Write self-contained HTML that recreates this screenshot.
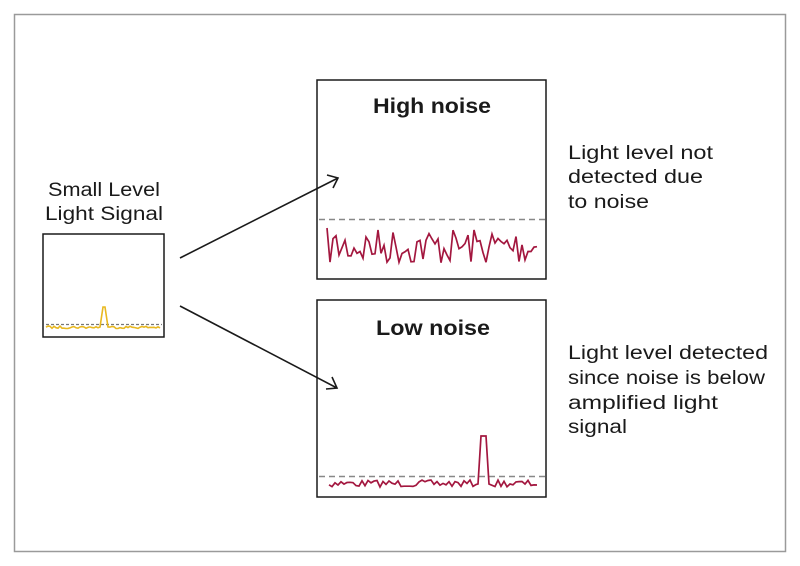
<!DOCTYPE html>
<html><head><meta charset="utf-8"><style>
html,body{margin:0;padding:0;background:#fff}
svg{display:block}
text{font-family:"Liberation Sans",sans-serif;fill:#1a1a1a}
</style></head><body>
<svg id="s" width="800" height="566" viewBox="0 0 800 566" xmlns="http://www.w3.org/2000/svg">
<rect x="14.5" y="14.5" width="771" height="537" fill="none" stroke="#9a9a9a" stroke-width="1.5"/>
<text x="48" y="196" font-size="19" textLength="112" lengthAdjust="spacingAndGlyphs">Small Level</text>
<text x="45" y="220" font-size="19" textLength="118" lengthAdjust="spacingAndGlyphs">Light Signal</text>
<rect x="43" y="234" width="121" height="103" fill="none" stroke="#1a1a1a" stroke-width="1.5"/>
<line x1="46" y1="324.5" x2="162" y2="324.5" stroke="#777" stroke-width="1.2" stroke-dasharray="3,2"/>
<polyline id="yl" fill="none" stroke="#e8b820" stroke-width="1.6"/>
<rect x="317" y="80" width="229" height="199" fill="none" stroke="#1a1a1a" stroke-width="1.5"/>
<text x="373" y="113" font-size="21" font-weight="bold" textLength="118" lengthAdjust="spacingAndGlyphs">High noise</text>
<line x1="319" y1="219.5" x2="545" y2="219.5" stroke="#888" stroke-width="1.5" stroke-dasharray="6,4"/>
<polyline id="hn" fill="none" stroke="#a3173f" stroke-width="1.7"/>
<rect x="317" y="300" width="229" height="197" fill="none" stroke="#1a1a1a" stroke-width="1.5"/>
<text x="376" y="335" font-size="21" font-weight="bold" textLength="114" lengthAdjust="spacingAndGlyphs">Low noise</text>
<line x1="319" y1="476.5" x2="545" y2="476.5" stroke="#888" stroke-width="1.5" stroke-dasharray="6,4"/>
<polyline id="ln" fill="none" stroke="#a3173f" stroke-width="1.7"/>
<g stroke="#1a1a1a" stroke-width="1.6" fill="none">
<line x1="180" y1="258" x2="338" y2="178"/>
<polyline points="327,175 338,178 333,188"/>
<line x1="180" y1="306" x2="337" y2="388"/>
<polyline points="332,377 337,388 326,389"/>
</g>
<g font-size="19">
<text x="568" y="159" textLength="145" lengthAdjust="spacingAndGlyphs">Light level not</text>
<text x="568" y="183" textLength="135" lengthAdjust="spacingAndGlyphs">detected due</text>
<text x="568" y="208" textLength="81" lengthAdjust="spacingAndGlyphs">to noise</text>
<text x="568" y="359" textLength="200" lengthAdjust="spacingAndGlyphs">Light level detected</text>
<text x="568" y="384" textLength="197" lengthAdjust="spacingAndGlyphs">since noise is below</text>
<text x="568" y="409" textLength="150" lengthAdjust="spacingAndGlyphs">amplified light</text>
<text x="568" y="433" textLength="59" lengthAdjust="spacingAndGlyphs">signal</text>
</g>
</svg>
<script>
var seed=7;function r(){seed=(seed*16807)%2147483647;return seed/2147483647;}
var p=[];for(var x=327;x<=538;x+=3){p.push(x+","+(228+r()*37).toFixed(1));}
document.getElementById('hn').setAttribute('points',p.join(' '));
p=[];for(var x=329;x<=538;x+=3){
 if(x>=477&&x<=492){p.push("478,484 481,436 486,436 489,484");x=492;continue;}
 p.push(x+","+(480+r()*7).toFixed(1));}
document.getElementById('ln').setAttribute('points',p.join(' '));
p=[];for(var x=46;x<=161;x+=2){
 if(x>=99&&x<=108){p.push("100,327 103,307 105,307 108,327");x=108;continue;}
 p.push(x+","+(326+r()*2.5).toFixed(1));}
document.getElementById('yl').setAttribute('points',p.join(' '));
</script>
</body></html>
